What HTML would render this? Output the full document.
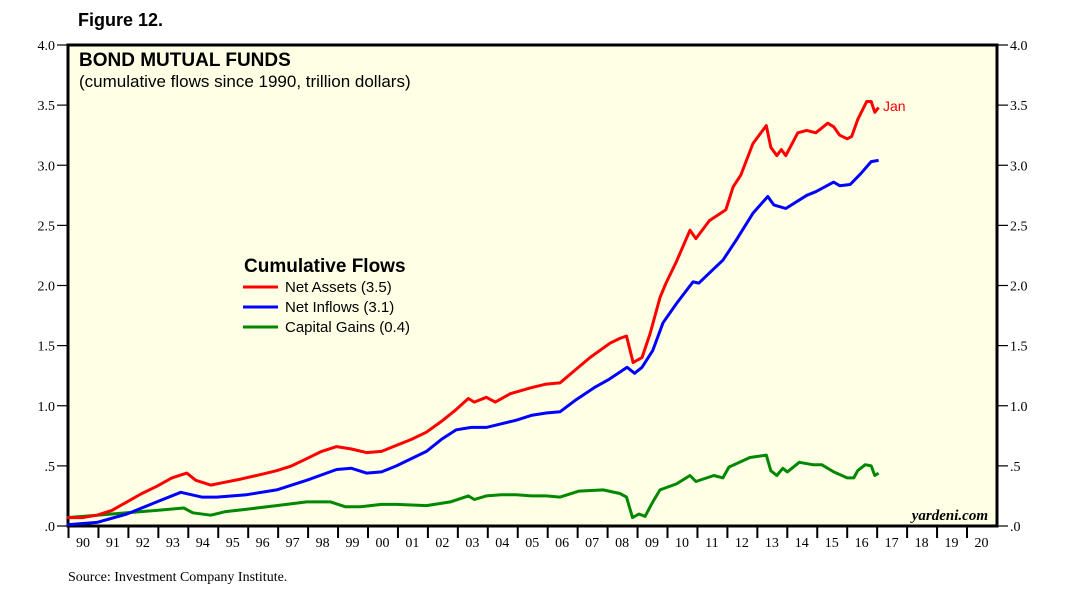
<!DOCTYPE html>
<html><head><meta charset="utf-8"><style>
body{margin:0;background:#fff;width:1073px;height:599px;overflow:hidden}
svg{display:block}
.s{font-family:"Liberation Serif",serif;font-size:14px}
.a{font-family:"Liberation Sans",sans-serif}
</style></head><body>
<svg id="c" width="1073" height="599">
<text x="78" y="26" class="a" font-size="18" font-weight="bold">Figure 12.</text>
<rect x="68" y="45" width="929" height="481" fill="#ffffe6" stroke="#000" stroke-width="3"/>
<text x="79" y="66" class="a" font-size="19" font-weight="bold">BOND MUTUAL FUNDS</text>
<text x="79" y="87" class="a" font-size="17">(cumulative flows since 1990, trillion dollars)</text>
<g id="axes"></g>
<g id="series"></g>
<text x="883" y="111" class="a" font-size="14" fill="#f00">Jan</text>
<g>
<text x="244" y="272" class="a" font-size="19" font-weight="bold">Cumulative Flows</text>
<line x1="243" x2="278" y1="287" y2="287" stroke="#f00" stroke-width="3"/>
<text x="285" y="292" class="a" font-size="15">Net Assets (3.5)</text>
<line x1="243" x2="278" y1="307" y2="307" stroke="#00f" stroke-width="3"/>
<text x="285" y="312" class="a" font-size="15">Net Inflows (3.1)</text>
<line x1="243" x2="278" y1="327" y2="327" stroke="#080" stroke-width="3"/>
<text x="285" y="332" class="a" font-size="15">Capital Gains (0.4)</text>
</g>
<text x="988" y="520" text-anchor="end" font-family="Liberation Serif,serif" font-style="italic" font-weight="bold" font-size="15">yardeni.com</text>
<text x="68" y="581" class="s" font-size="14">Source: Investment Company Institute.</text>
</svg>
<script>
const yTicks=[0,0.5,1,1.5,2,2.5,3,3.5,4];
const yTickLabels=[".0",".5","1.0","1.5","2.0","2.5","3.0","3.5","4.0"];
const xYears=["90","91","92","93","94","95","96","97","98","99","00","01","02","03","04","05","06","07","08","09","10","11","12","13","14","15","16","17","18","19","20"];
const netAssetsT=[1990,1990.5,1991,1991.5,1992,1992.5,1993,1993.5,1994,1994.3,1994.8,1995.2,1995.8,1996.5,1997,1997.5,1998,1998.5,1999,1999.5,2000,2000.5,2001,2001.5,2002,2002.5,2003,2003.4,2003.6,2004,2004.3,2004.8,2005.5,2006,2006.46,2007.46,2008.13,2008.46,2008.68,2008.9,2009.2,2009.47,2009.8,2010,2010.35,2010.8,2011,2011.45,2012,2012.24,2012.5,2012.9,2013.35,2013.5,2013.7,2013.85,2014,2014.4,2014.7,2015,2015.4,2015.6,2015.8,2016.05,2016.2,2016.4,2016.7,2016.85,2016.97,2017.1];
const netAssetsV=[0.07,0.07,0.09,0.13,0.2,0.27,0.33,0.4,0.44,0.38,0.34,0.36,0.39,0.43,0.46,0.5,0.56,0.62,0.66,0.64,0.61,0.62,0.67,0.72,0.78,0.87,0.97,1.06,1.03,1.07,1.03,1.1,1.15,1.18,1.19,1.4,1.52,1.56,1.58,1.36,1.4,1.6,1.9,2.02,2.2,2.46,2.39,2.54,2.63,2.82,2.92,3.18,3.33,3.15,3.08,3.13,3.08,3.27,3.29,3.27,3.35,3.32,3.25,3.22,3.24,3.38,3.53,3.53,3.44,3.48];
const netInflowsT=[1990,1991,1992,1993,1993.8,1994.5,1995,1996,1997,1998,1999,1999.5,2000,2000.5,2001,2002,2002.5,2003,2003.5,2004,2004.5,2005,2005.5,2006,2006.46,2007,2007.6,2008.1,2008.46,2008.7,2008.95,2009.2,2009.56,2009.9,2010.35,2010.9,2011.1,2011.6,2011.9,2012.35,2012.9,2013.4,2013.6,2014,2014.7,2015,2015.6,2015.8,2016.15,2016.5,2016.85,2017.1];
const netInflowsV=[0.01,0.03,0.1,0.2,0.28,0.24,0.24,0.26,0.3,0.38,0.47,0.48,0.44,0.45,0.5,0.62,0.72,0.8,0.82,0.82,0.85,0.88,0.92,0.94,0.95,1.05,1.15,1.22,1.28,1.32,1.27,1.32,1.46,1.69,1.85,2.03,2.02,2.14,2.21,2.38,2.6,2.74,2.67,2.64,2.75,2.78,2.86,2.83,2.84,2.93,3.03,3.04];
const capGainsT=[1990,1991,1992,1993,1993.9,1994.2,1994.8,1995.3,1996,1997,1998,1998.8,1999.3,1999.8,2000.5,2001,2002,2002.8,2003.4,2003.6,2004,2004.5,2005,2005.5,2006,2006.46,2007.1,2007.9,2008.46,2008.68,2008.88,2009.1,2009.3,2009.56,2009.8,2010.35,2010.8,2011,2011.6,2011.9,2012.1,2012.8,2013.35,2013.5,2013.7,2013.9,2014.05,2014.45,2014.9,2015.2,2015.6,2016.05,2016.27,2016.4,2016.65,2016.85,2016.97,2017.1];
const capGainsV=[0.07,0.09,0.11,0.13,0.15,0.11,0.09,0.12,0.14,0.17,0.2,0.2,0.16,0.16,0.18,0.18,0.17,0.2,0.25,0.22,0.25,0.26,0.26,0.25,0.25,0.24,0.29,0.3,0.27,0.24,0.07,0.1,0.08,0.2,0.3,0.35,0.42,0.37,0.42,0.4,0.49,0.57,0.59,0.46,0.42,0.48,0.45,0.53,0.51,0.51,0.45,0.4,0.4,0.46,0.51,0.5,0.42,0.44];

const X0=67,XW=29.95,Y0=526,YH=120.25;
const xs=t=>X0+(t-1990)*XW;
const ys=v=>Y0-v*YH;
const NS="http://www.w3.org/2000/svg";
const mk=(tag,attrs,parent)=>{const e=document.createElementNS(NS,tag);for(const k in attrs)e.setAttribute(k,attrs[k]);parent.appendChild(e);return e;};
const ax=document.getElementById('axes');
yTicks.forEach((v,i)=>{
  let l=mk('line',{x1:57,x2:68,y1:ys(v),y2:ys(v),stroke:'#000','stroke-width':1.2},ax);
  
  
  let r=mk('line',{x1:997,x2:1008,y1:ys(v),y2:ys(v),stroke:'#000','stroke-width':1.2},ax);
  
  
  let t=mk('text',{x:55,y:ys(v)+5,'text-anchor':'end',class:'s'},ax);t.textContent=yTickLabels[i];
  
  
  let t2=mk('text',{x:1010,y:ys(v)+5,class:'s'},ax);t2.textContent=yTickLabels[i];
  
  
});
xYears.forEach((s,i)=>{
  const x=xs(1990+i);
  let l=mk('line',{x1:x+1.5,x2:x+1.5,y1:526,y2:538,stroke:'#000','stroke-width':2},ax);
  
  
  let t=mk('text',{x:x+XW/2+1,y:547,'text-anchor':'middle',class:'s'},ax);t.textContent=s;
  
  
});
const sg=document.getElementById('series');
function line(T,V,c,name){
  const d=T.map((t,i)=>(i?'L':'M')+xs(t).toFixed(1)+','+ys(V[i]).toFixed(1)).join('');
  const p=mk('path',{d:d,fill:'none',stroke:c,'stroke-width':3,'stroke-linejoin':'round'},sg);
  
  
}
line(capGainsT,capGainsV,'#080','capital-gains-line');
line(netInflowsT,netInflowsV,'#00f','net-inflows-line');
line(netAssetsT,netAssetsV,'#f00','net-assets-line');
</script>
</body></html>
